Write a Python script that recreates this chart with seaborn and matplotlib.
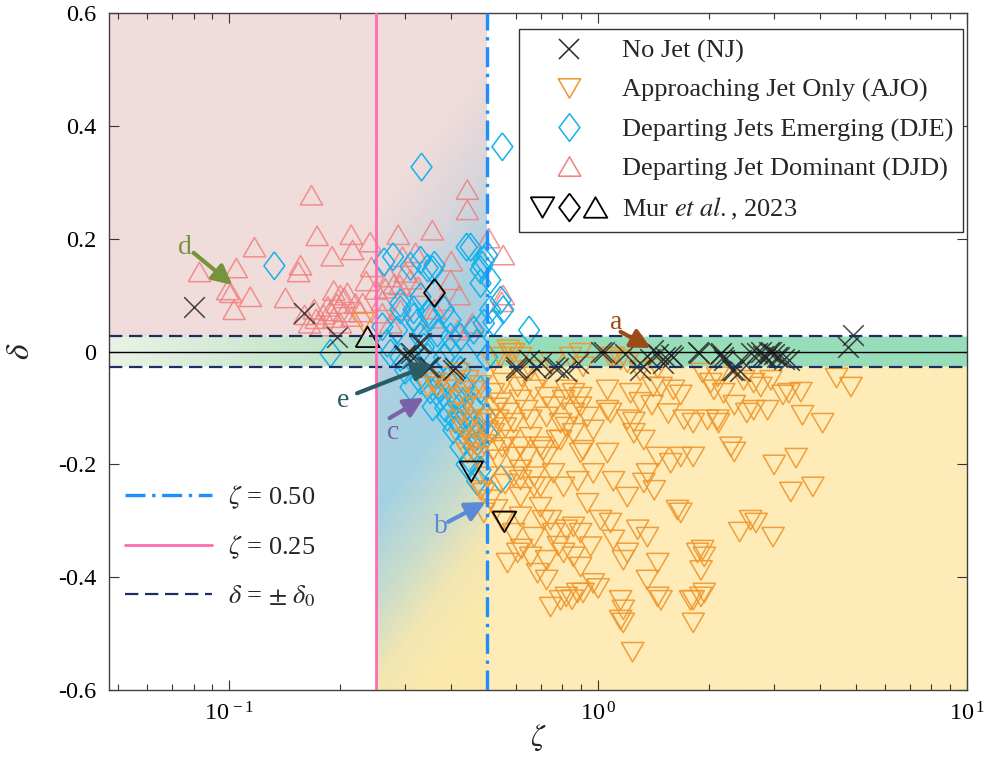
import numpy as np
import matplotlib
matplotlib.use("Agg")
import matplotlib.pyplot as plt
import seaborn as sns
from matplotlib.lines import Line2D
from matplotlib.legend_handler import HandlerTuple
from matplotlib.ticker import LogLocator, NullFormatter, FuncFormatter

# ---- data: (zeta, delta) pairs per regime ----
nj_points = [
    (0.080, 0.079), (0.159, 0.068), (0.196, 0.026), (0.297, -0.008), (0.300, -0.006),
    (0.310, -0.003), (0.314, -0.011), (0.326, 0.015), (0.330, 0.015), (0.345, -0.027),
    (0.351, -0.027), (0.405, -0.033), (0.410, -0.029),
    (0.597, -0.027), (0.600, -0.033), (0.650, -0.015), (0.680, -0.029), (0.700, -0.020),
    (0.760, -0.027), (0.780, -0.029), (0.820, -0.035), (0.880, -0.020),
    (1.02, 0.000), (1.04, 0.000), (1.18, -0.005), (1.30, -0.020), (1.30, -0.033),
    (1.38, -0.013), (1.41, 0.003), (1.45, -0.005), (1.50, -0.020), (1.52, -0.010),
    (1.58, -0.006), (1.60, -0.010), (1.86, 0.000), (1.88, -0.003), (2.14, -0.005),
    (2.15, -0.003), (2.18, -0.010), (2.20, -0.015), (2.30, -0.033), (2.33, -0.033),
    (2.43, -0.035), (2.44, -0.015), (2.60, -0.003), (2.70, -0.003), (2.76, 0.000),
    (2.80, -0.008), (2.85, -0.010), (2.90, 0.000), (2.95, 0.000), (3.00, -0.005),
    (3.05, -0.010), (3.10, -0.010), (3.20, -0.014), (3.30, -0.015), (4.75, 0.008),
    (4.90, 0.030),
]

ajo_points = [
    (0.231, 0.052),
    (0.590, -0.003), (0.656, -0.033), (0.710, -0.045), (0.842, -0.010), (0.910, -0.027),
    (1.08, -0.010), (1.15, -0.015), (1.20, -0.020), (0.579, -0.003), (0.616, -0.010),
    (0.896, -0.003), (1.10, -0.010), (0.570, 0.003), (0.544, -0.010), (0.520, -0.020),
    (0.750, -0.020), (1.30, -0.035), (1.45, -0.030), (0.620, -0.045),
    (1.06, -0.068), (1.225, -0.074), (1.48, -0.063), (1.60, -0.068), (1.675, -0.077),
    (2.06, -0.068), (2.19, -0.074), (0.857, -0.074), (0.806, -0.086), (0.670, -0.068),
    (0.725, -0.081), (0.520, -0.074), (0.544, -0.091), (0.555, -0.056), (0.605, -0.063),
    (0.616, -0.086), (0.820, -0.068), (0.896, -0.081), (1.41, -0.063), (2.02, -0.056),
    (2.11, -0.045), (1.92, -0.038), (2.48, -0.051), (2.64, -0.056), (2.76, -0.063),
    (2.94, -0.051), (4.43, -0.047), (4.845, -0.063), (3.545, -0.072), (3.29, -0.074),
    (3.17, -0.077), (2.34, -0.095), (0.367, -0.063), (0.390, -0.068), (0.418, -0.081),
    (0.443, -0.086), (0.345, -0.063), (0.382, -0.045), (0.418, -0.038), (0.358, -0.056),
    (0.405, -0.056), (0.443, -0.051), (0.480, -0.060), (0.460, -0.070),
    (1.08, -0.109), (1.25, -0.125), (1.71, -0.121), (1.81, -0.127), (2.11, -0.121),
    (0.896, -0.098), (0.935, -0.116), (0.656, -0.121), (0.725, -0.116), (0.791, -0.127),
    (0.570, -0.109), (0.590, -0.127), (0.535, -0.121), (0.640, -0.104), (0.757, -0.098),
    (0.857, -0.109), (1.06, -0.104), (1.20, -0.121), (2.88, -0.104), (2.64, -0.104),
    (2.53, -0.109), (3.58, -0.113), (4.06, -0.127), (2.12, -0.127), (1.98, -0.121),
    (0.470, -0.098), (0.4235, -0.109), (0.451, -0.121), (0.480, -0.127), (0.418, -0.121),
    (1.40, -0.095), (1.55, -0.110), (1.30, -0.090),
    (1.33, -0.157), (0.910, -0.175), (1.06, -0.180), (1.45, -0.187), (1.573, -0.198),
    (1.675, -0.187), (1.81, -0.187), (0.791, -0.157), (0.710, -0.175), (0.656, -0.152),
    (0.857, -0.145), (2.29, -0.169), (0.520, -0.145), (0.570, -0.157), (0.616, -0.169),
    (0.520, -0.175), (0.535, -0.192), (0.590, -0.187), (0.640, -0.187), (0.698, -0.169),
    (0.725, -0.187), (1.25, -0.145), (0.970, -0.139), (0.820, -0.134), (0.775, -0.157),
    (0.896, -0.180), (2.34, -0.178), (3.00, -0.201), (3.44, -0.189), (0.4235, -0.157),
    (0.460, -0.163), (0.443, -0.180), (0.470, -0.187), (0.433, -0.139), (0.451, -0.157),
    (0.470, -0.169), (0.500, -0.140), (0.490, -0.165), (0.550, -0.170), (0.505, -0.120),
    (0.530, -0.100), (0.560, -0.135),
    (0.970, -0.216), (0.757, -0.216), (0.806, -0.240), (1.36, -0.216), (1.33, -0.233),
    (1.42, -0.246), (1.20, -0.258), (0.670, -0.240), (0.616, -0.228), (0.500, -0.222),
    (0.590, -0.222), (0.670, -0.222), (0.490, -0.251), (0.510, -0.263), (0.616, -0.258),
    (0.698, -0.240), (0.480, -0.246), (0.616, -0.210), (0.560, -0.235), (3.33, -0.249),
    (3.82, -0.240), (1.10, -0.230), (0.880, -0.230),
    (0.935, -0.269), (1.64, -0.281), (1.675, -0.286), (0.743, -0.299), (0.857, -0.311),
    (1.016, -0.299), (1.08, -0.304), (1.28, -0.316), (1.36, -0.329), (0.698, -0.276),
    (0.616, -0.293), (0.710, -0.299), (0.590, -0.322), (0.670, -0.329), (0.757, -0.322),
    (0.820, -0.316), (0.896, -0.322), (0.490, -0.286), (2.59, -0.299), (2.68, -0.304),
    (2.42, -0.320), (2.98, -0.329), (1.10, -0.334), (0.550, -0.300), (0.530, -0.280),
    (0.605, -0.357), (0.656, -0.364), (0.725, -0.370), (0.806, -0.357), (0.857, -0.364),
    (0.896, -0.382), (0.954, -0.346), (1.20, -0.357), (1.17, -0.370), (1.45, -0.375),
    (1.86, -0.357), (1.94, -0.364), (1.90, -0.388), (0.568, -0.375), (0.685, -0.393),
    (1.92, -0.352), (0.620, -0.350), (0.780, -0.345),
    (0.743, -0.453), (0.791, -0.441), (0.880, -0.428), (0.970, -0.411), (1.15, -0.441),
    (1.17, -0.458), (1.36, -0.405), (1.48, -0.441), (1.81, -0.441), (1.94, -0.428),
    (1.17, -0.481), (1.81, -0.481), (1.24, -0.533), (0.725, -0.405), (0.820, -0.435),
    (0.910, -0.428), (1.15, -0.476), (1.45, -0.435), (1.90, -0.435), (1.78, -0.441),
    (1.00, -0.420), (0.850, -0.440),
]

dje_points = [
    (0.332, 0.327), (0.550, 0.363), (0.440, 0.185), (0.263, 0.159), (0.1325, 0.152),
    (0.500, 0.171), (0.650, 0.038), (0.553, 0.074), (0.520, 0.052), (0.188, -0.003),
    (0.545, -0.226), (0.480, 0.145), (0.510, 0.127), (0.345, 0.148), (0.360, 0.153),
    (0.330, 0.097), (0.485, 0.153), (0.291, 0.086), (0.316, 0.074), (0.345, 0.068),
    (0.382, 0.074), (0.398, 0.056), (0.323, 0.050), (0.285, 0.038), (0.367, 0.033),
    (0.4235, 0.026), (0.460, 0.038), (0.490, 0.050), (0.470, 0.015), (0.268, 0.015),
    (0.291, -0.010), (0.300, -0.033), (0.330, -0.051), (0.351, -0.068), (0.310, -0.063),
    (0.374, -0.081), (0.398, -0.091), (0.356, -0.098), (0.390, -0.116), (0.4235, -0.127),
    (0.405, -0.139), (0.443, -0.152), (0.4235, -0.169), (0.460, -0.169), (0.451, -0.192),
    (0.480, -0.210), (0.345, -0.010), (0.382, -0.010), (0.323, -0.027), (0.337, 0.008),
    (0.398, 0.003), (0.4235, -0.033), (0.433, -0.063), (0.480, -0.068), (0.460, -0.098),
    (0.495, -0.116), (0.500, -0.145), (0.500, -0.010), (0.510, 0.074), (0.544, 0.091),
    (0.278, 0.168), (0.310, 0.151), (0.330, 0.162), (0.356, 0.145), (0.451, 0.185),
    (0.490, 0.162), (0.480, 0.121), (0.291, 0.074), (0.316, 0.061), (0.351, 0.061),
    (0.398, 0.026), (0.330, 0.026), (0.260, 0.044), (0.2735, -0.003), (0.360, -0.040),
    (0.370, -0.060), (0.390, -0.050), (0.410, -0.080), (0.440, -0.110), (0.460, -0.130),
    (0.470, -0.150), (0.430, -0.090), (0.385, -0.100), (0.410, -0.120), (0.440, -0.200),
    (0.470, -0.230),
]

djd_points = [
    (0.167, 0.277), (0.083, 0.141), (0.117, 0.185), (0.1045, 0.148), (0.099, 0.109),
    (0.101, 0.104), (0.114, 0.097), (0.103, 0.074), (0.142, 0.095), (0.156, 0.153),
    (0.154, 0.141), (0.173, 0.205), (0.190, 0.169), (0.214, 0.207), (0.216, 0.180),
    (0.241, 0.194), (0.209, 0.104), (0.205, 0.095), (0.196, 0.085), (0.188, 0.072),
    (0.180, 0.066), (0.172, 0.058), (0.165, 0.050), (0.205, 0.070), (0.220, 0.085),
    (0.192, 0.060), (0.178, 0.045), (0.200, 0.050), (0.215, 0.062), (0.185, 0.080),
    (0.226, 0.070), (0.170, 0.075), (0.160, 0.065), (0.287, 0.207), (0.355, 0.215),
    (0.295, 0.168), (0.320, 0.175), (0.272, 0.132), (0.280, 0.120), (0.265, 0.112),
    (0.290, 0.118), (0.300, 0.140), (0.310, 0.128), (0.325, 0.115), (0.442, 0.287),
    (0.442, 0.251), (0.398, 0.127), (0.456, 0.050), (0.416, 0.038), (0.505, 0.201),
    (0.553, 0.171), (0.553, 0.100), (0.548, 0.088), (0.450, 0.043), (0.357, 0.059),
    (0.230, 0.086), (0.291, 0.074), (0.260, 0.068), (0.274, 0.050), (0.243, 0.150),
    (0.250, 0.110), (0.235, 0.125), (0.260, 0.090), (0.380, 0.090), (0.360, 0.075),
    (0.400, 0.160), (0.420, 0.100), (0.192, 0.108), (0.200, 0.100),
]

# Mur et al., 2023 (black outlines)
mur_ajo = [(0.453, -0.213), (0.557, -0.302)]
mur_dje = [(0.360, 0.104)]
mur_djd = [(0.237, 0.026)]

# regime boundaries
ZETA_A, ZETA_B = 0.25, 0.50
DELTA0 = 0.027
ZETA_MIN, ZETA_MAX = 0.0472, 10.0

# annotation letters: label, text position, arrow tail, arrow tip, colour
arrow_notes = [
    ("a", (1.12, 0.052), (1.15, 0.035), (1.39, 0.006), "#9C4A17"),
    ("b", (0.374, -0.311), (0.392, -0.302), (0.495, -0.267), "#5B8BD6"),
    ("c", (0.278, -0.143), (0.272, -0.118), (0.337, -0.082), "#7A62A6"),
    ("d", (0.076, 0.185), (0.080, 0.175), (0.102, 0.118), "#76943C"),
    ("e", (0.204, -0.086), (0.222, -0.074), (0.355, -0.022), "#2B5C66"),
]

# ---- style ----
sns.set_theme(style="ticks")
plt.rcParams["font.family"] = ["Liberation Serif", "DejaVu Serif"]
plt.rcParams["mathtext.fontset"] = "stix"
plt.rcParams["axes.unicode_minus"] = False

C_NJ = "#262626"
C_AJO = "#F0962D"
C_DJE = "#12B2EE"
C_DJD = "#F08080"

TRI_DOWN = [(-1, 0.866), (1, 0.866), (0, -0.866), (-1, 0.866)]
TRI_UP = [(-1, -0.866), (1, -0.866), (0, 0.866), (-1, -0.866)]
DIAMOND = [(0, 1), (0.75, 0), (0, -1), (-0.75, 0), (0, 1)]
S_TRI, S_DIA, S_X = 260, 400, 220


def mix(stops, u):
    pos = np.array([p for p, _ in stops], dtype=float)
    cols = np.array([c for _, c in stops], dtype=float) / 255.0
    return np.stack([np.interp(u, pos, cols[:, k]) for k in range(3)], axis=-1)


def background(bg):
    """Shaded regime map drawn in axes-fraction space."""
    nx, ny = 860, 680
    lx0, lx1 = np.log10(ZETA_MIN), np.log10(ZETA_MAX)
    fx = np.linspace(0, 1, nx)
    fy = np.linspace(1, 0, ny)
    FX, FY = np.meshgrid(fx, fy)
    zeta = 10 ** (lx0 + FX * (lx1 - lx0))
    delta = -0.6 + FY * 1.2
    img = np.ones((ny, nx, 3))

    pink = np.array([240, 220, 218]) / 255
    green = np.array([152, 221, 186]) / 255
    yellow = np.array([254, 235, 183]) / 255

    left = zeta < ZETA_A
    mid = (zeta >= ZETA_A) & (zeta < ZETA_B)
    right = zeta >= ZETA_B
    above = delta > DELTA0
    below = delta < -DELTA0
    band = ~above & ~below

    img[left & above] = pink
    fa = (np.log10(ZETA_A) - lx0) / (lx1 - lx0)
    band_grad = mix([(0, (234, 243, 228)), (fa, (184, 225, 197))], FX)
    img[left & band] = band_grad[left & band]

    # diagonal blend across the transition column
    px = FX * 858
    py = (1 - FY) * 677
    u = py + 1.35 * (px - fa * 858)
    col = mix([(200, (240, 220, 218)), (300, (216, 213, 220)), (390, (172, 208, 224)),
               (500, (164, 210, 226)), (590, (200, 220, 205)), (670, (242, 230, 178)),
               (740, (252, 233, 172))], u)
    img[mid] = col[mid]

    img[right & band] = green
    img[right & below] = yellow

    bg.imshow(img, extent=[0, 1, 0, 1], aspect="auto", interpolation="bilinear", origin="upper")
    bg.set_xlim(0, 1)
    bg.set_ylim(0, 1)
    bg.axis("off")


def hollow(ax, pts, marker, s, color, lw=1.1, alpha=1.0, z=3, filled=True):
    xs = [p[0] for p in pts]
    ys = [p[1] for p in pts]
    if filled:
        sns.scatterplot(x=xs, y=ys, ax=ax, marker=marker, s=s, color=color,
                        facecolor="none", edgecolor=color, linewidth=lw,
                        alpha=alpha, zorder=z, legend=False)
    else:
        sns.scatterplot(x=xs, y=ys, ax=ax, marker=marker, s=s, color=color,
                        linewidth=lw, alpha=alpha, zorder=z, legend=False)


rect = [0.1098, 0.0897, 0.8640, 0.8931]
fig = plt.figure(figsize=(9.93, 7.58), dpi=100)
bg = fig.add_axes(rect, zorder=0)
background(bg)
ax = fig.add_axes(rect, zorder=1)
ax.patch.set_alpha(0)

ax.set_xscale("log")

hollow(ax, djd_points, TRI_UP, S_TRI, C_DJD, alpha=0.85, z=3)
hollow(ax, dje_points, DIAMOND, S_DIA, C_DJE, z=3.1)
hollow(ax, ajo_points, TRI_DOWN, S_TRI, C_AJO, alpha=0.9, z=3.2)
hollow(ax, nj_points, "x", S_X, C_NJ, lw=1.1, alpha=0.85, z=3.3, filled=False)
hollow(ax, mur_ajo, TRI_DOWN, S_TRI + 30, "black", lw=1.3, z=3.5)
hollow(ax, mur_dje, DIAMOND, S_DIA, "black", lw=1.3, z=3.5)
hollow(ax, mur_djd, TRI_UP, S_TRI + 30, "black", lw=1.3, z=3.5)

ax.axhline(0, color="black", lw=1.0, zorder=4)
l_d0 = ax.axhline(DELTA0, color="#1B2F63", lw=1.6, ls=(0, (6, 3)), zorder=4)
ax.axhline(-DELTA0, color="#1B2F63", lw=1.6, ls=(0, (6, 3)), zorder=4)
l_25 = ax.axvline(ZETA_A, color="#FF6AB2", lw=2.0, zorder=4)
l_50 = ax.axvline(ZETA_B, color="#1E8EFF", lw=2.4, ls=(0, (6, 2, 1, 2)), zorder=4)

for label, txt, tail, tip, c in arrow_notes:
    ax.annotate("", xy=tip, xytext=tail, zorder=6,
                arrowprops=dict(arrowstyle="-|>,head_length=0.9,head_width=0.45",
                                color=c, lw=3.0, mutation_scale=13,
                                shrinkA=0, shrinkB=0))
    ax.text(txt[0], txt[1], label, color=c, fontsize=20, ha="center", va="center", zorder=6)

ax.set_xlim(ZETA_MIN, ZETA_MAX)
ax.set_ylim(-0.6, 0.6)
ax.set_xticks([0.1, 1, 10])
ax.set_xticklabels([r"$\mathregular{10^{\,-1}}$", r"$\mathregular{10^{\,0}}$",
                    r"$\mathregular{10^{\,1}}$"])
ax.xaxis.set_minor_locator(LogLocator(base=10, subs=np.arange(2, 10)))
ax.xaxis.set_minor_formatter(NullFormatter())
ax.set_yticks(np.round(np.arange(-0.6, 0.61, 0.2), 1))
ax.yaxis.set_major_formatter(FuncFormatter(lambda v, p: "0" if abs(v) < 1e-9 else f"{v:.1f}"))
ax.tick_params(which="both", direction="in", top=True, right=True, colors="#333333",
               labelcolor="black", labelsize=17.5)
ax.tick_params(which="major", length=7, width=0.8, pad=9)
ax.tick_params(which="minor", length=4, width=0.8)
for sp in ax.spines.values():
    sp.set_color("#404040")
    sp.set_linewidth(1.0)

ax.set_xlabel(r"$\zeta$", fontsize=22, labelpad=-2)
ax.set_ylabel(r"$\delta$", fontsize=24, labelpad=16)

# marker legend
def mk(marker, color, ms, lw=1.1):
    return Line2D([], [], marker=marker, linestyle="none", markersize=ms,
                  markerfacecolor="none", markeredgecolor=color, markeredgewidth=lw, color=color)

h_nj = mk("x", C_NJ, np.sqrt(S_X))
h_ajo = mk(TRI_DOWN, C_AJO, np.sqrt(S_TRI))
h_dje = mk(DIAMOND, C_DJE, np.sqrt(S_DIA))
h_djd = mk(TRI_UP, C_DJD, np.sqrt(S_TRI))
h_mur = (mk(TRI_DOWN, "black", np.sqrt(S_TRI + 30), 1.3), mk(DIAMOND, "black", np.sqrt(S_DIA), 1.3),
         mk(TRI_UP, "black", np.sqrt(S_TRI + 30), 1.3))
leg1 = ax.legend([h_nj, h_ajo, h_dje, h_djd, h_mur],
                 ["No Jet (NJ)", "Approaching Jet Only (AJO)", "Departing Jets Emerging (DJE)",
                  "Departing Jet Dominant (DJD)", r"Mur $\mathit{et\ al.}$, 2023"],
                 handler_map={tuple: HandlerTuple(ndivide=None, pad=0.0)},
                 loc="upper right", bbox_to_anchor=(0.9953, 0.976), borderaxespad=0,
                 fontsize=19.0, frameon=True, fancybox=False, framealpha=1, edgecolor="#333333",
                 handlelength=3.0, handletextpad=0.5, labelspacing=0.58, borderpad=0.38)
leg1.get_frame().set_linewidth(1.0)
leg1.set_zorder(7)
ax.add_artist(leg1)

leg2 = ax.legend([l_50, l_25, l_d0],
                 [r"$\zeta$ = 0.50", r"$\zeta$ = 0.25", r"$\delta$ = $\pm$ $\delta_0$"],
                 loc="upper left", bbox_to_anchor=(0.0186, 0.305), borderaxespad=0,
                 borderpad=0, fontsize=19, frameon=False, handlelength=3.3,
                 handletextpad=0.6, labelspacing=0.85)
leg2.set_zorder(7)

fig.savefig("out.png", dpi=100)
